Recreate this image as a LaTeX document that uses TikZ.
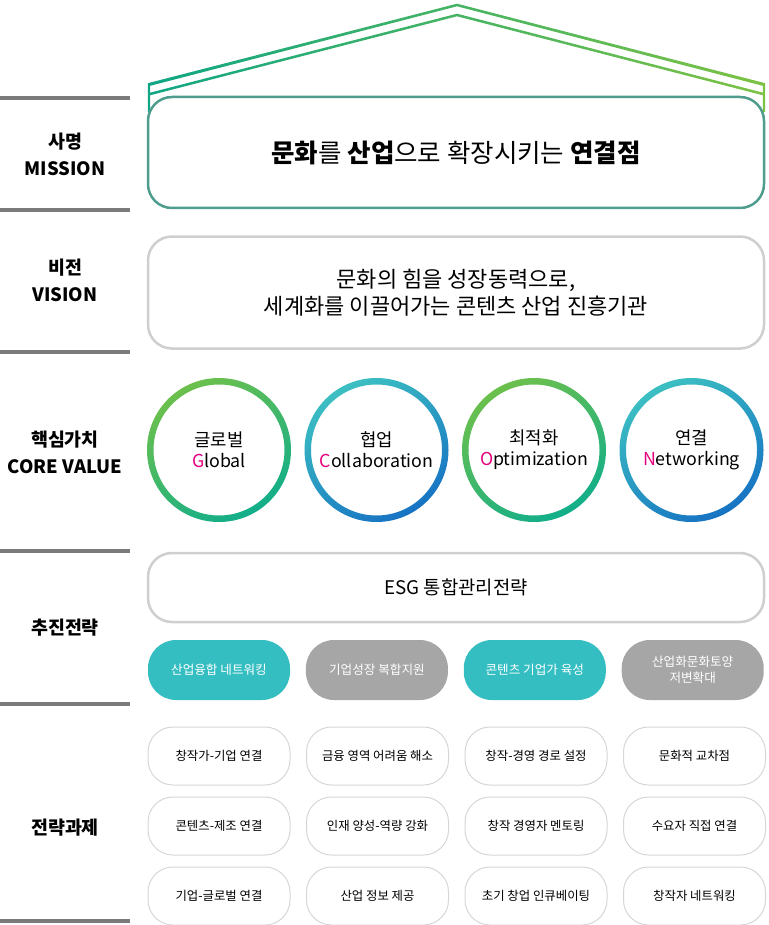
\documentclass[tikz,border=0pt]{standalone}
\usepackage{fontspec}
\setmainfont{Noto Sans CJK KR}
\usepackage{xcolor}
\usetikzlibrary{positioning}

\definecolor{rulegray}{HTML}{7B7B7B}
\definecolor{missionline}{HTML}{4F9D8D}
\definecolor{boxgray}{HTML}{CFCFCF}
\definecolor{taskgray}{HTML}{D6D6D6}
\definecolor{pillteal}{HTML}{35BEC2}
\definecolor{pillgray}{HTML}{A6A6A6}
\definecolor{initial}{HTML}{E5007E}
\definecolor{roofleft}{HTML}{10A684}
\definecolor{roofright}{HTML}{7CC243}
\definecolor{ringgreen}{HTML}{6CC04C}
\definecolor{ringmint}{HTML}{12AE8A}
\definecolor{ringteal}{HTML}{3CBFC2}
\definecolor{ringblue}{HTML}{1773C3}

\newcommand{\ini}[1]{\textcolor{initial}{#1}}

\tikzset{
  rowrule/.style={draw=rulegray,line width=4pt},
  sidelabel/.style={font=\fontsize{18.4}{27}\selectfont\bfseries,align=center},
  widebox/.style={draw=boxgray,line width=2.5pt,fill=white,rounded corners=24pt,
    minimum width=616pt,align=center},
  valtext/.style={circle,minimum size=130pt,align=center,
    font=\fontsize{17.8}{21}\selectfont},
  pill/.style={rounded corners=28pt,minimum width=142pt,minimum height=60pt,
    align=center,text=white,font=\fontsize{12.6}{15.5}\selectfont},
  task/.style={draw=taskgray,line width=1pt,rounded corners=25pt,
    minimum width=142pt,minimum height=58pt,font=\fontsize{12.4}{15}\selectfont},
}

\begin{document}
\begin{tikzpicture}[x=1pt,y=-1pt,node distance=15.5pt]
  \useasboundingbox (0,0) rectangle (768,925);

  % row rules on the left
  \draw[rowrule] (0,98) -- (130,98);
  \draw[rowrule] (0,210.5) -- (130,210.5);
  \draw[rowrule] (0,351.5) -- (130,351.5);
  \draw[rowrule] (0,551) -- (130,551);
  \draw[rowrule] (0,703.5) -- (130,703.5);
  \draw[rowrule] (0,921) -- (130,921);

  % row labels
  \node[sidelabel] (lmission) at (65,154) {사명\\MISSION};
  \node[sidelabel] (lvision) at (65,280) {비전\\VISION};
  \node[sidelabel] (lvalue) at (65,452) {핵심가치\\CORE VALUE};
  \node[sidelabel] (lplan) at (65,628) {추진전략};
  \node[sidelabel] (ltask) at (65,828) {전략과제};

  % roof
  \shade[left color=roofleft,right color=roofright]
    (147.8,112) -- (147.8,83.2) -- (457,3.7) -- (765.2,83.2) -- (765.2,112)
      -- (762.8,112) -- (762.8,85.8) -- (457,6.3) -- (150.2,85.8) -- (150.2,112) -- cycle
    (150,92.7) -- (457,13.7) -- (763,92.7) -- (763,95.3) -- (457,16.3) -- (150,95.3) -- cycle;

  % mission and vision
  \node[widebox,draw=missionline,minimum height=111pt,
    font=\fontsize{25.5}{30}\selectfont] (mission) at (456,152.5)
    {\textbf{문화}를 \textbf{산업}으로 확장시키는 \textbf{연결점}};
  \node[widebox,minimum height=112pt,font=\fontsize{22}{27}\selectfont]
    (vision) at (456,292.5)
    {문화의 힘을 성장동력으로,\\세계화를 이끌어가는 콘텐츠 산업 진흥기관};

  % core values
  \node[valtext] (glo) at (219,450) {글로벌\\\ini{G}lobal};
  \node[valtext] (col) at (376.5,450) {협업\\\ini{C}ollaboration};
  \node[valtext] (opt) at (534,450) {최적화\\\ini{O}ptimization};
  \node[valtext] (net) at (691.5,450) {연결\\\ini{N}etworking};
  \shade[even odd rule,top color=ringgreen,bottom color=ringmint,shading angle=30]
    (glo.center) circle[radius=72pt] (glo.center) circle[radius=65.5pt];
  \shade[even odd rule,top color=ringteal,bottom color=ringblue,shading angle=30]
    (col.center) circle[radius=72pt] (col.center) circle[radius=65.5pt];
  \shade[even odd rule,top color=ringgreen,bottom color=ringmint,shading angle=30]
    (opt.center) circle[radius=72pt] (opt.center) circle[radius=65.5pt];
  \shade[even odd rule,top color=ringteal,bottom color=ringblue,shading angle=30]
    (net.center) circle[radius=72pt] (net.center) circle[radius=65.5pt];

  % strategy
  \node[widebox,minimum height=69pt,font=\fontsize{18.8}{22}\selectfont]
    (esg) at (456,587.5) {ESG 통합관리전략};
  \node[pill,fill=pillteal] (p1) at (219,670) {산업융합 네트워킹};
  \node[pill,fill=pillgray,right=of p1] (p2) {기업성장 복합지원};
  \node[pill,fill=pillteal,right=of p2] (p3) {콘텐츠 기업가 육성};
  \node[pill,fill=pillgray,right=of p3] (p4) {산업화문화토양\\저변확대};

  % tasks
  \node[task] (t11) at (219,756) {창작가-기업 연결};
  \node[task,right=of t11] (t12) {금융 영역 어려움 해소};
  \node[task,right=of t12] (t13) {창작-경영 경로 설정};
  \node[task,right=of t13] (t14) {문화적 교차점};
  \node[task,below=11pt of t11] (t21) {콘텐츠-제조 연결};
  \node[task,right=of t21] (t22) {인재 양성-역량 강화};
  \node[task,right=of t22] (t23) {창작 경영자 멘토링};
  \node[task,right=of t23] (t24) {수요자 직접 연결};
  \node[task,below=11pt of t21] (t31) {기업-글로벌 연결};
  \node[task,right=of t31] (t32) {산업 정보 제공};
  \node[task,right=of t32] (t33) {초기 창업 인큐베이팅};
  \node[task,right=of t33] (t34) {창작자 네트워킹};
\end{tikzpicture}
\end{document}
